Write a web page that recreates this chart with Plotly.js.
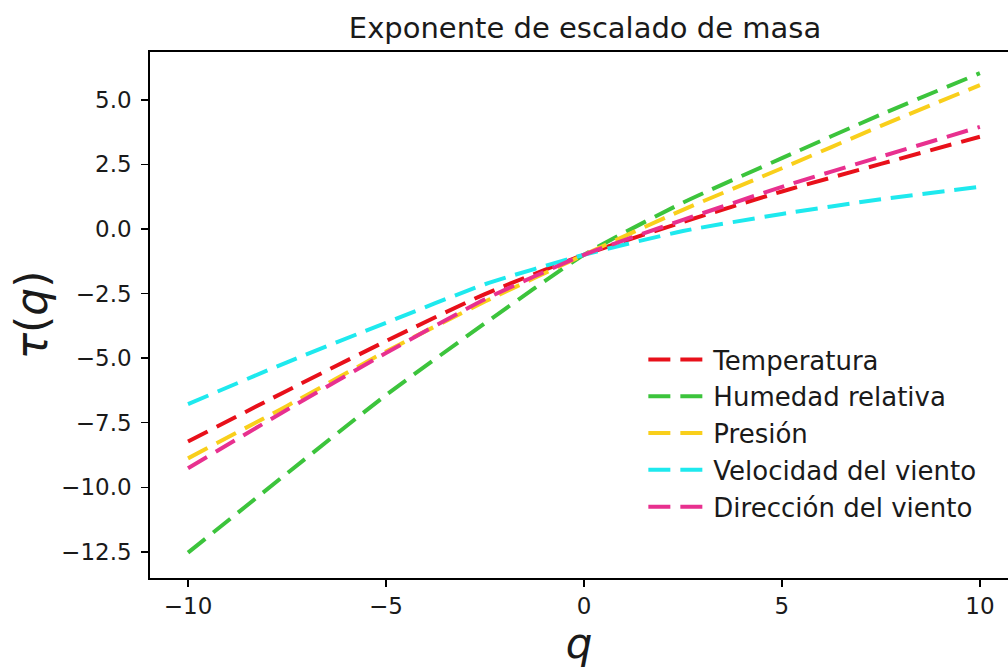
<!DOCTYPE html>
<html>
<head>
<meta charset="utf-8">
<script src="https://cdn.plot.ly/plotly-3.0.1.min.js"></script>
<style>html,body{margin:0;padding:0;background:#fff;}#chart{width:1008px;height:669px;}</style>
</head>
<body>
<div id="chart"></div>
<script>
// q values (x)
const q = [-10, -7.5, -5, -2.5, 0, 2.5, 5, 7.5, 10];
// tau(q) per series
const temperatura = [-8.23, -6.26, -4.34, -2.52, -1.0, 0.27, 1.45, 2.52, 3.57];
const humedad     = [-12.53, -9.46, -6.43, -3.65, -1.0, 1.02, 2.74, 4.43, 6.03];
const presion     = [-8.88, -6.85, -4.74, -2.81, -1.0, 0.74, 2.35, 3.99, 5.57];
const velocidad   = [-6.78, -5.16, -3.63, -2.14, -1.0, -0.08, 0.58, 1.15, 1.63];
const direccion   = [-9.26, -7.0, -4.80, -2.72, -1.0, 0.35, 1.63, 2.80, 3.95];

const names = ["Temperatura", "Humedad relativa", "Presión", "Velocidad del viento", "Dirección del viento"];
const series = [temperatura, humedad, presion, velocidad, direccion];
const colors = ["#e8101a", "#3cc43c", "#f9cf1b", "#1ee9ee", "#e8308f"];

const traces = series.map((ys, i) => ({
  x: q, y: ys, type: "scatter", mode: "lines", name: names[i],
  line: {color: colors[i], width: 4, dash: "22px,10px", shape: "spline", smoothing: 0.6}
}));

const font = "DejaVu Sans, Arial, sans-serif";
const layout = {
  width: 1008, height: 669,
  margin: {l: 150, r: 0, t: 52, b: 91},
  paper_bgcolor: "#fff", plot_bgcolor: "#fff",
  font: {family: font, color: "#1a1a1a", size: 23},
  title: {text: "Exponente de escalado de masa", font: {family: font, size: 29, color: "#1a1a1a"},
          x: 0.507, xref: "paper", xanchor: "center", y: 0.958, yref: "container", yanchor: "middle"},
  showlegend: true,
  legend: {x: 0.575, xanchor: "left", y: 0.46, yanchor: "top", bgcolor: "rgba(0,0,0,0)",
           itemwidth: 60, font: {family: font, size: 26, color: "#1a1a1a"}, tracegroupgap: 0},
  xaxis: {range: [-10.96, 10.71], tickvals: [-10, -5, 0, 5, 10], ticks: "outside", ticklen: 7, tickwidth: 1.5,
          tickcolor: "#000", showline: true, linecolor: "#000", linewidth: 1.8, mirror: true,
          showgrid: false, zeroline: false, tickfont: {size: 23},
          title: {text: "<i>q</i>", font: {family: font, size: 42}, standoff: 9}},
  yaxis: {range: [-13.51, 6.85], tickvals: [-12.5, -10, -7.5, -5, -2.5, 0, 2.5, 5], tickformat: ".1f",
          ticks: "outside", ticklen: 7, tickwidth: 1.5, tickcolor: "#000", ticklabelstandoff: 5,
          showline: true, linecolor: "#000", linewidth: 1.8, mirror: false,
          showgrid: false, zeroline: false, tickfont: {size: 23},
          title: {text: "<i>τ</i>(<i>q</i>)", font: {family: font, size: 44}, standoff: 0}}
};

Plotly.newPlot("chart", traces, layout, {staticPlot: true, displayModeBar: false});
</script>
</body>
</html>
